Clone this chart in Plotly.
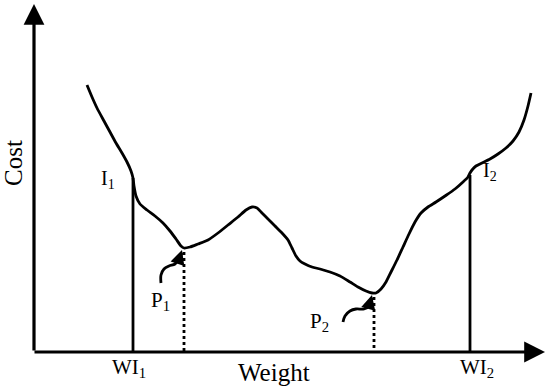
import plotly.graph_objects as go

# Schematic cost curve (x = weight position, y = cost position, screen-like units)
curve_x = [87, 92, 97, 104, 110, 116, 122, 127, 131, 133, 134, 136, 140, 147, 155, 163, 170, 176, 181, 184,
           190, 198, 208, 218, 228, 238, 246, 252, 257, 262, 268, 275, 282, 288, 292, 296, 300, 305, 312, 320,
           330, 340, 350, 358, 366, 372, 376, 381, 386, 391, 397, 403, 409, 415, 421, 428, 436, 445, 455, 463,
           468, 470, 472, 476, 482, 490, 498, 506, 513, 519, 524, 528, 531]
curve_y = [85, 97, 108, 121, 132, 143, 153, 162, 171, 178, 186, 196, 204, 210, 216, 223, 231, 239, 246, 248,
           247, 244, 240, 233, 225, 217, 210, 207, 208, 213, 219, 226, 233, 240, 248, 256, 261, 264, 267, 269,
           272, 276, 282, 287, 291, 293, 293, 289, 282, 272, 260, 247, 234, 222, 213, 207, 202, 196, 189, 182,
           177, 173, 170, 166, 163, 159, 154, 148, 141, 132, 120, 106, 93]

# Indicator lines
solid_x = [133, 470]
solid_top = [178, 175]
dotted_x = [184, 374]
dotted_top = [252, 297]
axis_y = 352

# Curly pointer arrows to P1 and P2
p1_x = [161, 161, 164, 169, 175, 179, 182]
p1_y = [283, 275, 269, 266, 264, 259, 253]
p2_x = [343, 345, 350, 356, 364, 369, 372]
p2_y = [322, 316, 311, 309, 309, 306, 298]

labels = [
    dict(x=13, y=163, text="Cost", angle=-90, size=25),
    dict(x=274, y=372, text="Weight", angle=0, size=25),
    dict(x=129, y=368, text="WI<sub>1</sub>", angle=0, size=21),
    dict(x=477, y=368, text="WI<sub>2</sub>", angle=0, size=21),
    dict(x=108, y=179, text="I<sub>1</sub>", angle=0, size=20),
    dict(x=490, y=171, text="I<sub>2</sub>", angle=0, size=20),
    dict(x=160, y=301, text="P<sub>1</sub>", angle=0, size=21),
    dict(x=319, y=322, text="P<sub>2</sub>", angle=0, size=21),
]

fig = go.Figure()
black = "black"

fig.add_trace(go.Scatter(x=curve_x, y=curve_y, mode="lines",
                         line=dict(color=black, width=2.8, shape="spline", smoothing=0.6),
                         hoverinfo="skip"))
for xv, top in zip(solid_x, solid_top):
    fig.add_trace(go.Scatter(x=[xv, xv], y=[top, axis_y], mode="lines",
                             line=dict(color=black, width=2.8), hoverinfo="skip"))
for xv, top in zip(dotted_x, dotted_top):
    fig.add_trace(go.Scatter(x=[xv, xv], y=[top, axis_y], mode="lines",
                             line=dict(color=black, width=2.8, dash="dot"), hoverinfo="skip"))
for px, py in ((p1_x, p1_y), (p2_x, p2_y)):
    fig.add_trace(go.Scatter(x=px, y=py, mode="lines",
                             line=dict(color=black, width=2.8, shape="spline"), hoverinfo="skip"))

ann = []
# Axes with arrow heads
ann.append(dict(x=34, y=4, ax=34, ay=axis_y, xref="x", yref="y", axref="x", ayref="y",
                showarrow=True, arrowhead=2, arrowsize=1.3, arrowwidth=3.2, arrowcolor=black, text="",
                font=dict(size=12)))
ann.append(dict(x=545, y=axis_y, ax=33, ay=axis_y, xref="x", yref="y", axref="x", ayref="y",
                showarrow=True, arrowhead=2, arrowsize=1.3, arrowwidth=3.2, arrowcolor=black, text="",
                font=dict(size=12)))
# Pointer arrow heads
for px, py in ((p1_x, p1_y), (p2_x, p2_y)):
    ann.append(dict(x=px[-1], y=py[-1] - 3, ax=px[-2], ay=py[-2], xref="x", yref="y", axref="x", ayref="y",
                    showarrow=True, arrowhead=2, arrowsize=1.2, arrowwidth=2.4, arrowcolor=black, text="",
                    font=dict(size=12)))
for lb in labels:
    ann.append(dict(x=lb["x"], y=lb["y"], text=lb["text"], textangle=lb["angle"], showarrow=False,
                    xref="x", yref="y",
                    font=dict(family="Liberation Serif", size=lb["size"], color=black)))

fig.update_layout(
    width=546, height=386, margin=dict(l=0, r=0, t=0, b=0),
    paper_bgcolor="white", plot_bgcolor="white", showlegend=False,
    font=dict(family="Liberation Serif", size=20, color=black),
    xaxis=dict(range=[0, 546], visible=False, fixedrange=True),
    yaxis=dict(range=[386, 0], visible=False, fixedrange=True),
    annotations=ann,
)
fig.write_html("out.html", config={"displayModeBar": False},
               post_script="document.body.style.margin='0px';")
